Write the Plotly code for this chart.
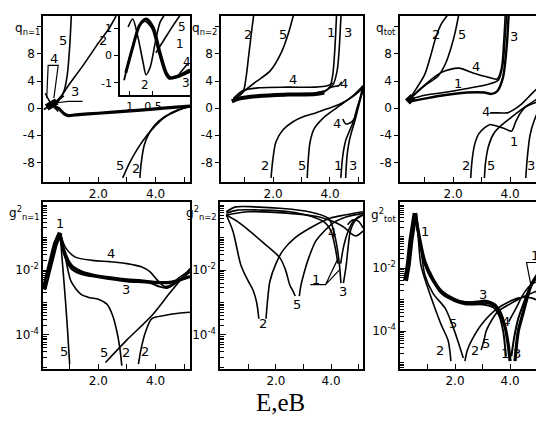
import plotly.graph_objects as go

# ---------------- data ----------------
# Panel 1: q_{n=1}
q1_main = ([0.45, 0.6, 0.8, 0.95, 1.2, 2.0, 3.0, 4.0, 4.6, 5.2], [0.2, 0.0, -0.8, -1.1, -1.0, -0.75, -0.45, -0.1, 0.1, 0.3])
q1_c5_up = ([0.35, 0.6, 0.8, 0.92, 1.0, 1.06], [0.3, 1.0, 2.5, 5, 9, 13.8])
q1_c2_up = ([0.45, 0.75, 0.95, 1.5, 2.0, 2.35, 2.62], [0.6, 2.0, 3.3, 6.5, 9.6, 11.6, 13.6])
q1_c5_low = ([2.85, 3.1, 3.4, 3.7, 3.95, 4.3, 4.8, 5.2], [-10.3, -8, -5.8, -4.0, -2.8, -1.4, -0.3, 0.2])
q1_c2_low = ([3.45, 3.5, 3.6, 3.75, 3.95, 4.3, 4.8, 5.2], [-10.3, -8, -5.5, -3.9, -2.6, -1.3, -0.2, 0.25])
q1_c4 = ([0.15, 0.3, 0.45, 0.6], [2.2, 1.0, 0.2, -0.5])
q1_c3 = ([0.1, 0.35, 0.6, 0.8], [-0.2, 0.5, 1.2, 1.8])
q1_blob = ([0.2, 0.55], [0.1, 1.0])
q1_lab = (["5", "2", "4", "3", "5", "2"], [0.77, 2.18, 0.45, 1.2, 2.74, 3.33], [10.0, 10.0, 7.4, 2.4, -8.4, -8.9])
q1_lead4 = ([0.2, 0.25, 0.6, 0.45], [1.5, 6.3, 6.3, 1.5])
q1_lead3 = ([0.55, 0.95, 1.45], [0.8, 1.0, 1.0])

# Inset in panel 1
ins_a = ([0.03, 0.15, 0.27, 0.38, 0.5, 0.62, 0.73, 0.8, 0.94, 1.14], [-0.63, 0.3, 1.11, 1.33, 1.04, 0.11, -0.63, -0.81, -0.74, -0.52])
ins_a2 = ([0.0, 0.12, 0.25, 0.36, 0.48, 0.6, 0.71, 0.78, 0.92, 1.14], [-0.9, 0.1, 1.0, 1.25, 1.0, 0.1, -0.65, -0.85, -0.8, -0.6])
ins_b = ([0.07, 0.15, 0.24, 0.33, 0.38, 0.45, 0.54, 0.62, 0.69], [1.04, 1.33, 0.67, -0.26, -0.7, -0.44, 0.48, 1.2, 1.45])
ins_c = ([0.55, 0.7, 0.85, 0.98], [0.1, 0.6, 1.1, 1.5])
ins_d = ([0.94, 1.02, 1.1], [-0.72, -0.5, -0.3])
ins_lab = (["2", "5", "1", "4", "3"], [0.36, 1.0, 0.97, 1.08, 1.07], [-1.07, 1.04, 0.42, -0.22, -1.0])

# Panel 2: q_{n=2}
q2_c2_up = ([0.6, 0.8, 0.95, 1.05, 1.15, 1.25, 1.32], [1.2, 1.8, 2.4, 4.5, 8, 11.5, 13.8])
q2_c5_up = ([0.7, 0.95, 1.4, 1.9, 2.3, 2.55, 2.72], [1.5, 2.4, 3.9, 5.5, 8.3, 11.2, 13.8])
q2_c4 = ([0.6, 0.95, 1.5, 2.5, 3.5, 3.9, 4.1], [1.4, 2.6, 3.0, 3.1, 3.1, 3.3, 3.7])
q2_c4_hook = ([3.95, 4.15, 4.3, 4.42], [3.0, 3.2, 3.3, 3.9])
q2_main = ([0.55, 0.8, 1.5, 2.5, 3.5, 3.8], [1.0, 1.4, 1.8, 2.0, 2.1, 2.3])
q2_c1_up = ([3.5, 3.8, 4.0, 4.1, 4.16, 4.2, 4.23], [2.1, 2.4, 3.2, 5, 8, 11, 13.8])
q2_c3_up = ([3.5, 3.85, 4.1, 4.25, 4.32, 4.36, 4.39], [2.2, 2.6, 3.4, 5.5, 8.5, 11.5, 13.8])
q2_c2_low = ([1.93, 1.98, 2.1, 2.35, 2.7, 3.1, 3.5, 3.9, 4.35, 4.8, 5.16], [-10.3, -8, -5, -3.2, -2.0, -1.2, -0.7, -0.1, 0.6, 1.7, 3.0])
q2_c5_low = ([3.2, 3.23, 3.3, 3.45, 3.75, 4.05, 4.35, 4.8, 5.16], [-10.3, -8, -5, -3, -1.5, -0.5, 0.4, 1.8, 3.3])
q2_c1_low = ([4.38, 4.45, 4.55, 4.7, 4.82, 4.95, 5.16], [-10.3, -7, -4.8, -3.2, -2.0, 0, 2.6])
q2_c3_low = ([4.55, 4.6, 4.68, 4.78, 4.88, 5.0, 5.16], [-10.3, -7, -4.8, -3.2, -1.8, 0.2, 2.8])
q2_c4_low = ([4.45, 4.55, 4.7, 4.85, 5.0, 5.16], [-1.6, -2.3, -2.2, -1.6, 0.5, 3.3])
q2_lab = (["2", "5", "1", "3", "4", "4", "2", "5", "1", "3", "4"],
          [1.12, 2.35, 4.04, 4.63, 2.7, 4.5, 1.72, 3.0, 4.28, 4.8, 4.25],
          [10.8, 10.8, 11.1, 11.1, 4.3, 3.6, -8.4, -8.4, -8.4, -8.4, -2.2])

# Panel 3: q_tot
q3_c2_up = ([0.5, 0.7, 1.0, 1.2, 1.4, 1.6, 1.82], [1.5, 2.8, 4.9, 7.5, 10.5, 12.5, 13.8])
q3_c5_up = ([0.55, 1.0, 1.47, 1.75, 1.93, 2.08, 2.2], [1.6, 3.3, 4.7, 6.7, 8.9, 11.3, 13.8])
q3_c4 = ([0.5, 1.0, 1.6, 2.2, 2.7, 3.2, 3.55, 3.7, 3.78, 3.83], [1.5, 3.4, 5.3, 5.9, 5.2, 4.6, 4.3, 6, 10, 13.8])
q3_c1 = ([0.5, 1.0, 1.5, 2.5, 3.3, 3.6, 3.75, 3.82, 3.88], [1.3, 1.9, 2.2, 2.9, 3.6, 4.2, 6.5, 10, 13.8])
q3_c3 = ([0.5, 1.0, 1.5, 2.5, 3.1, 3.35, 3.55, 3.75, 3.88, 3.95], [1.0, 1.4, 1.8, 2.3, 2.3, 2.1, 2.5, 4.5, 9, 13.8])
q3_blob = ([0.4, 0.6], [0.9, 1.7])
q3_c2_low = ([2.62, 2.66, 2.75, 2.9, 3.1, 3.3], [-10.3, -8, -5.5, -3.8, -2.9, -2.4])
q3_c1_low = ([3.3, 3.5, 3.8, 4.05, 4.2, 4.35, 4.55, 5.0, 5.33], [-2.4, -2.6, -3.0, -3.4, -2.0, -0.8, 0.2, 1.0, 1.4])
q3_c5_low = ([3.1, 3.14, 3.25, 3.45, 3.7, 4.0, 4.3, 4.6, 5.0, 5.33], [-10.3, -8, -5.5, -3.6, -2.5, -1.5, -0.5, 0.4, 1.5, 2.4])
q3_c4_low = ([3.3, 3.6, 3.9, 4.1, 4.4, 4.8, 5.33], [-0.7, -0.7, -0.7, -0.3, 0.6, 2.3, 4.4])
q3_c3_low = ([4.55, 4.6, 4.7, 4.85, 5.0, 5.33], [-10.3, -7.5, -4, -1.8, -0.4, 1.0])
q3_lab = (["2", "5", "4", "1", "3", "4", "1", "2", "5", "3"],
          [1.4, 2.3, 2.8, 2.18, 4.15, 3.15, 4.12, 2.45, 3.33, 4.75],
          [10.8, 10.8, 6.2, 3.6, 10.6, -0.5, -4.9, -8.4, -8.4, -8.4])

# Panel 4: g^2_{n=1}  (log10 of the value)
g1_rise = ([0.1, 0.3, 0.5, 0.67], [-2.6, -1.9, -1.2, -0.85])
g1_c4 = ([0.67, 0.85, 1.2, 1.8, 2.4, 3.0, 3.5, 3.8, 4.05, 4.3, 4.55, 4.8, 5.2], [-0.85, -1.3, -1.6, -1.7, -1.74, -1.8, -1.9, -2.05, -2.3, -2.5, -2.45, -2.25, -2.0])
g1_c3 = ([0.67, 0.8, 1.05, 1.4, 1.8, 2.5, 3.0, 3.5, 4.0, 4.5, 5.2], [-0.9, -1.4, -1.85, -2.05, -2.15, -2.25, -2.3, -2.33, -2.38, -2.38, -2.2])
g1_c1 = ([0.67, 0.8, 1.05, 1.4, 2.0, 3.0, 3.8, 4.1, 4.4, 4.7, 5.2], [-0.95, -1.5, -1.95, -2.12, -2.22, -2.35, -2.4, -2.5, -2.55, -2.4, -2.05])
g1_c5 = ([0.67, 0.75, 0.85, 0.93, 1.0], [-0.9, -1.8, -2.9, -3.9, -4.9])
g1_c2a = ([0.7, 0.85, 1.05, 1.4, 1.7, 2.0, 2.3, 2.5, 2.65, 2.75, 2.82], [-1.0, -1.6, -2.35, -2.75, -2.85, -2.9, -3.05, -3.4, -3.9, -4.4, -4.95])
g1_c5b = ([2.25, 3.0, 3.87, 4.5, 5.2], [-4.85, -4.15, -3.4, -2.7, -1.95])
g1_c2b = ([3.4, 3.5, 3.65, 3.87, 4.3, 4.8, 5.2], [-4.9, -4.4, -3.9, -3.5, -3.4, -3.33, -3.3])
g1_lab = (["1", "4", "3", "5", "5", "2", "2"], [0.67, 2.46, 2.95, 0.8, 2.2, 2.98, 3.62], [-0.55, -1.5, -2.6, -4.5, -4.55, -4.55, -4.5])

# Panel 5: g^2_{n=2}
g2_c2l = ([0.2, 0.44, 0.73, 1.0, 1.16, 1.3, 1.38], [-0.3, -0.8, -1.85, -2.35, -2.6, -3.0, -3.5])
g2_c2r = ([1.64, 1.7, 1.78, 2.0, 2.25, 2.7, 3.24, 3.96, 4.5, 5.16], [-3.5, -2.9, -2.35, -1.8, -1.4, -1.0, -0.7, -0.4, -0.3, -0.2])
g2_c5l = ([0.2, 0.6, 1.05, 1.6, 2.15, 2.35, 2.5, 2.62, 2.7], [-0.3, -0.5, -0.8, -1.2, -1.63, -2.0, -2.45, -2.65, -2.8])
g2_c5r = ([2.85, 2.9, 3.0, 3.2, 3.45, 3.75, 4.07, 4.6, 5.16], [-2.8, -2.5, -2.15, -1.6, -1.1, -0.8, -0.55, -0.35, -0.25])
g2_c3l = ([0.2, 0.55, 1.2, 2.25, 3.2, 3.9, 4.07, 4.2, 4.3, 4.36], [-0.2, -0.05, -0.05, -0.1, -0.2, -0.4, -0.7, -1.2, -1.8, -2.4])
g2_c3r = ([4.45, 4.55, 4.62, 4.7, 4.9, 5.16], [-2.4, -1.85, -1.3, -0.8, -0.45, -0.3])
g2_c1l = ([0.2, 0.6, 1.5, 2.5, 3.3, 3.8, 4.0, 4.15, 4.25], [-0.25, -0.15, -0.15, -0.2, -0.35, -0.55, -0.8, -1.3, -1.8])
g2_c1r = ([4.35, 4.45, 4.6, 4.8, 5.0, 5.16], [-1.8, -1.3, -0.85, -0.5, -0.35, -0.3])
g2_c4 = ([0.2, 1.0, 2.5, 3.5, 3.9, 4.2, 4.5, 4.7, 4.9, 5.16], [-0.3, -0.2, -0.25, -0.35, -0.45, -0.55, -0.7, -0.85, -0.95, -0.8])
g2_c4_loop = ([4.6, 4.8, 5.0, 5.16], [-0.6, -0.45, -0.5, -0.7])
g2_lead1 = ([3.25, 3.8, 4.22, 3.8, 4.3], [-2.45, -2.45, -1.7, -2.45, -2.0])
g2_lab = (["2", "5", "3", "1", "4"], [1.53, 2.75, 4.45, 3.45, 4.05], [-3.65, -3.05, -2.65, -2.3, -0.85])

# Panel 6: g^2_tot
g3_rise = ([0.2, 0.3, 0.4, 0.5, 0.55], [-2.4, -1.9, -1.1, -0.5, -0.25])
g3_c2l = ([0.55, 0.65, 0.76, 1.0, 1.27, 1.5, 1.75, 1.85], [-0.25, -0.9, -1.9, -2.6, -3.27, -3.8, -4.3, -4.95])
g3_c2r = ([2.36, 2.45, 2.6, 2.95, 3.56, 4.3, 4.8, 5.27], [-4.95, -4.6, -4.3, -3.8, -3.27, -2.95, -2.95, -3.17])
g3_c5l = ([0.6, 0.75, 0.9, 1.2, 1.64, 1.9, 2.1, 2.3], [-0.3, -1.3, -2.2, -2.8, -3.27, -3.8, -4.3, -4.85])
g3_c5r = ([2.95, 3.05, 3.13, 3.3, 3.56, 3.93, 4.5, 5.27], [-4.6, -4.3, -4.0, -3.7, -3.37, -3.17, -2.9, -2.63])
g3_c3l = ([0.55, 0.7, 0.9, 1.2, 1.5, 2.0, 2.36, 2.8, 3.1, 3.45, 3.65, 3.8, 3.93, 4.0], [-0.25, -1.0, -1.78, -2.35, -2.73, -3.0, -3.1, -3.08, -3.05, -3.17, -3.45, -3.8, -4.4, -4.95])
g3_c3r = ([4.18, 4.3, 4.45, 4.55, 4.76, 5.0, 5.27], [-4.95, -4.0, -3.5, -3.17, -2.55, -2.2, -1.9])
g3_c1l = ([0.55, 0.7, 0.9, 1.2, 1.5, 2.0, 2.4, 3.0, 3.4, 3.6, 3.75, 3.85], [-0.3, -1.05, -1.85, -2.4, -2.8, -3.05, -3.15, -3.15, -3.25, -3.5, -4.0, -4.8])
g3_c1r = ([4.05, 4.15, 4.3, 4.5, 4.7, 5.0, 5.27], [-4.8, -4.2, -3.6, -3.1, -2.65, -2.25, -1.95])
g3_c4l = ([0.55, 0.7, 0.9, 1.3, 2.0, 2.8, 3.3, 3.6, 3.75], [-0.3, -1.1, -1.9, -2.55, -3.0, -3.1, -3.15, -3.3, -3.6])
g3_c4r = ([3.95, 4.2, 4.5, 4.8, 5.27], [-3.7, -3.3, -2.8, -2.5, -2.35])
g3_lead1 = ([5.15, 4.6, 4.75], [-1.82, -1.82, -2.5])
g3_lab = (["1", "3", "5", "2", "2", "5", "1", "3", "4", "1"],
          [0.9, 3.0, 1.93, 1.45, 2.72, 3.13, 3.8, 4.27, 3.85, 4.9],
          [-0.83, -2.85, -3.75, -4.6, -4.6, -4.4, -4.7, -4.7, -3.7, -1.6])

# axis tick labels
x_tickvals = [2, 4]
x_ticktext = ["2.0", "4.0"]
q_tickvals = [-8, -4, 0, 4, 8]
q_ticktext = ["-8", "-4", "0", "4", "8"]
g_tickvals = [1e-4, 1e-2]
g_ticktext = ["10<sup>-4</sup>", "10<sup>-2</sup>"]

# ---------------- figure ----------------
W, H = 544, 430
fig = go.Figure()
FONT = "DejaVu Sans"


def ax(k):
    return ("x" if k == 1 else f"x{k}"), ("y" if k == 1 else f"y{k}")


def add(curve, k, w=1.6, logy=False, spline=True):
    xs, ys = curve
    if logy:
        ys = [10 ** v for v in ys]
    xa, ya = ax(k)
    fig.add_trace(go.Scatter(x=xs, y=ys, xaxis=xa, yaxis=ya, mode="lines",
                             line=dict(color="black", width=w,
                                       shape="spline" if spline else "linear", smoothing=0.8),
                             hoverinfo="skip", showlegend=False))


def labels(lab, k, size=13):
    xa, ya = ax(k)
    for t, x, y in zip(*lab):
        fig.add_annotation(text=t, x=x, y=y, xref=xa, yref=ya, showarrow=False,
                           font=dict(family=FONT, size=size, color="black"))


# panel 1
for c in [q1_c5_up, q1_c2_up, q1_c5_low, q1_c2_low, q1_c4, q1_c3]:
    add(c, 1)
add(q1_main, 1, 3.2)
add(q1_blob, 1, 7, spline=False)
add(q1_lead4, 1, 1.2, spline=False)
add(q1_lead3, 1, 1.2, spline=False)
labels(q1_lab, 1)

# panel 2
for c in [q2_c2_up, q2_c5_up, q2_c4, q2_c4_hook, q2_c1_up, q2_c3_up, q2_c2_low, q2_c5_low, q2_c1_low, q2_c3_low, q2_c4_low]:
    add(c, 2)
add(q2_main, 2, 4)
labels(q2_lab, 2)

# panel 3
for c in [q3_c2_up, q3_c5_up, q3_c4, q3_c1, q3_c2_low, q3_c1_low, q3_c5_low, q3_c4_low, q3_c3_low]:
    add(c, 3)
add(q3_c3, 3, 2.4)
add(q3_blob, 3, 7, spline=False)
labels(q3_lab, 3)

# panel 4
add(g1_rise, 4, 5, logy=True, spline=False)
for c in [g1_c4, g1_c5, g1_c2a, g1_c5b, g1_c2b]:
    add(c, 4, logy=True)
add(g1_c3, 4, 3.2, logy=True)
add(g1_c1, 4, 2.0, logy=True)
labels(g1_lab, 4)

# panel 5
for c in [g2_c2l, g2_c2r, g2_c5l, g2_c5r, g2_c3l, g2_c3r, g2_c1l, g2_c1r, g2_c4, g2_c4_loop]:
    add(c, 5, logy=True)
add(g2_lead1, 5, 1.2, logy=True, spline=False)
labels(g2_lab, 5)

# panel 6
add(g3_rise, 6, 5, logy=True, spline=False)
for c in [g3_c2l, g3_c2r, g3_c5l, g3_c5r, g3_c4l, g3_c4r]:
    add(c, 6, logy=True)
add(g3_c3l, 6, 3.2, logy=True)
add(g3_c3r, 6, 3.2, logy=True)
add(g3_c1l, 6, 2.0, logy=True)
add(g3_c1r, 6, 2.0, logy=True)
add(g3_lead1, 6, 1.2, logy=True, spline=False)
labels(g3_lab, 6)

# inset (axis 7)
add(ins_a, 7, 3)
add(ins_a2, 7, 1.8)
for c in [ins_b, ins_c, ins_d]:
    add(c, 7)
labels(ins_lab, 7, 12)


def px_x(a, b):
    return [a / W, b / W]


def px_y(top, bot):
    return [1 - bot / H, 1 - top / H]


panels = {
    1: dict(xd=px_x(35, 182), yd=px_y(8, 174), xr=[0.07, 5.2], yr=[-10.9, 13.6], log=False),
    2: dict(xd=px_x(213, 355), yd=px_y(8, 174), xr=[0.17, 5.16], yr=[-10.9, 13.6], log=False),
    3: dict(xd=px_x(392, 540), yd=px_y(8, 174), xr=[0.14, 5.33], yr=[-10.9, 13.6], log=False),
    4: dict(xd=px_x(35, 182), yd=px_y(194, 361), xr=[0.07, 5.2], yr=[-5.05, 0.1], log=True),
    5: dict(xd=px_x(212, 355), yd=px_y(194, 361), xr=[-0.03, 5.16], yr=[-5.05, 0.1], log=True),
    6: dict(xd=px_x(392, 540), yd=px_y(194, 361), xr=[0.0, 5.38], yr=[-5.2, 0.1], log=True),
}

line = dict(showline=True, linecolor="black", linewidth=1.6, mirror=True,
            showgrid=False, zeroline=False)
tf = dict(family=FONT, size=12, color="black")
layout = {}
for k, p in panels.items():
    xa, ya = ax(k)
    xname = "xaxis" if k == 1 else f"xaxis{k}"
    yname = "yaxis" if k == 1 else f"yaxis{k}"
    layout[xname] = dict(domain=p["xd"], range=p["xr"], anchor=ya, tickvals=x_tickvals,
                         ticktext=x_ticktext, ticks="inside", ticklen=5, tickwidth=1.3,
                         tickcolor="black", tickfont=tf,
                         minor=dict(ticks="inside", ticklen=5, tickwidth=1.3, tickcolor="black",
                                    tick0=0, dtick=1, showgrid=False), **line)
    if p["log"]:
        layout[yname] = dict(domain=p["yd"], range=p["yr"], type="log", anchor=xa,
                             tickvals=g_tickvals, ticktext=g_ticktext, ticks="inside",
                             ticklen=6, tickwidth=1.3, tickcolor="black", tickfont=tf,
                             minor=dict(ticks="inside", ticklen=4, tickcolor="black",
                                        dtick="D1", showgrid=False), **line)
    else:
        layout[yname] = dict(domain=p["yd"], range=p["yr"], anchor=xa, tickvals=q_tickvals,
                             ticktext=q_ticktext, ticks="outside", ticklen=4, tickwidth=1.3,
                             tickcolor="black", tickfont=tf,
                             minor=dict(ticks="outside", ticklen=4, tickwidth=1.3, tickcolor="black",
                                        tick0=0, dtick=4, showgrid=False), **line)

layout["xaxis7"] = dict(domain=px_x(112, 182), range=[-0.07, 1.14], anchor="y7",
                        tickvals=[0.1, 0.5], ticktext=["1", "0.5"], ticks="inside", ticklen=4,
                        tickcolor="black", tickfont=dict(family=FONT, size=11, color="black"), **line)
layout["yaxis7"] = dict(domain=px_y(8, 87), range=[-1.44, 1.44], anchor="x7",
                        tickvals=[-1, 0, 1], ticktext=["-1", "0", "1"], ticks="outside", ticklen=4,
                        tickcolor="black", tickfont=dict(family=FONT, size=11, color="black"), **line)

fig.update_layout(width=W, height=H, margin=dict(l=0, r=0, t=0, b=0),
                  paper_bgcolor="white", plot_bgcolor="white", showlegend=False, **layout)

# axis titles
titles = [("q<sub>n=1</sub>", 34, 21), ("q<sub>n=2</sub>", 211, 21), ("q<sub>tot</sub>", 390, 21),
          ("g<sup>2</sup><sub>n=1</sub>", 34, 205), ("g<sup>2</sup><sub>n=2</sub>", 211, 205),
          ("g<sup>2</sup><sub>tot</sub>", 390, 207)]
for t, px, py in titles:
    fig.add_annotation(text=t, x=px / W, y=1 - py / H, xref="paper", yref="paper",
                       xanchor="right", yanchor="middle", showarrow=False,
                       font=dict(family=FONT, size=12, color="black"))

fig.add_annotation(text="E,eB", x=272 / W, y=1 - 410 / H, xref="paper", yref="paper",
                   showarrow=False, font=dict(family="Liberation Serif", size=25, color="black"))

fig.write_html("out.html")
